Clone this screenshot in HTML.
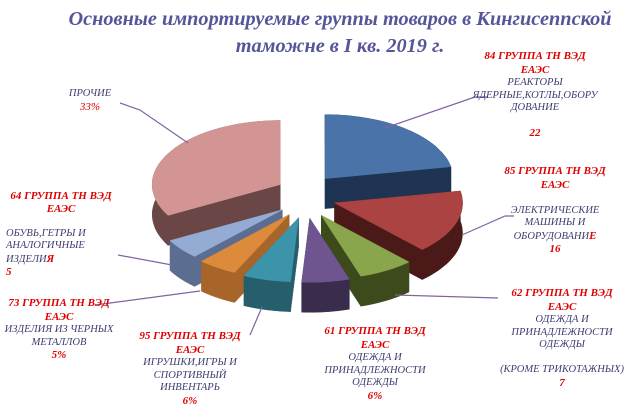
<!DOCTYPE html>
<html><head><meta charset="utf-8"><style>
body{margin:0;background:#fff;}
#wrap{position:relative;width:640px;height:405px;overflow:hidden;font-family:"Liberation Serif",serif;font-style:italic;}
.t{position:absolute;text-align:center;font-size:10.5px;line-height:12.5px;color:#3c3c70;}
.r{color:#e00000;font-weight:bold;font-size:11px;}
#title{position:absolute;left:40px;top:6px;width:600px;text-align:center;font-size:20.3px;line-height:27px;font-weight:bold;color:#555599;}
</style></head><body>
<div id="wrap">
<div id="title">Основные импортируемые группы товаров в Кингисеппской<br>таможне в I кв. 2019 г.</div>
<svg id="pie" width="640" height="405" style="position:absolute;left:0;top:0">
<g id="lines" stroke="#8064a2" stroke-width="1.2" fill="none">
<polyline points="385,128 475,97 487,97"/>
<polyline points="462,235 505,216 514,216"/>
<polyline points="395,295 498,298"/>
<polyline points="262,307 250,335"/>
<polyline points="200,291 95,305"/>
<polyline points="172,265 118,255"/>
<polyline points="188,143 140,110 120,103"/>
</g>
</svg>
<div class="t" style="left:470px;top:50px;width:130px"><span class="r">84 ГРУППА ТН ВЭД<br>ЕАЭС</span><br>РЕАКТОРЫ<br>ЯДЕРНЫЕ,КОТЛЫ,ОБОРУ<br>ДОВАНИЕ<br><br><span class="r">22</span></div>
<div class="t" style="left:495px;top:165px;width:120px"><span class="r">85 ГРУППА ТН ВЭД<br>ЕАЭС</span><br><br>ЭЛЕКТРИЧЕСКИЕ<br>МАШИНЫ И<br>ОБОРУДОВАНИ<span class="r">Е</span><br><span class="r">16</span></div>
<div class="t" style="left:497px;top:287px;width:130px"><span class="r">62 ГРУППА ТН ВЭД<br>ЕАЭС</span><br>ОДЕЖДА И<br>ПРИНАДЛЕЖНОСТИ<br>ОДЕЖДЫ<br><br>(КРОМЕ ТРИКОТАЖНЫХ)<br><span class="r">7</span></div>
<div class="t" style="left:320px;top:325px;width:110px"><span class="r">61 ГРУППА ТН ВЭД<br>ЕАЭС</span><br>ОДЕЖДА И<br>ПРИНАДЛЕЖНОСТИ<br>ОДЕЖДЫ<br><span class="r">6%</span></div>
<div class="t" style="left:130px;top:330px;width:120px"><span class="r">95 ГРУППА ТН ВЭД<br>ЕАЭС</span><br>ИГРУШКИ,ИГРЫ И<br>СПОРТИВНЫЙ<br>ИНВЕНТАРЬ<br><span class="r">6%</span></div>
<div class="t" style="left:0px;top:297px;width:118px"><span class="r">73 ГРУППА ТН ВЭД<br>ЕАЭС</span><br>ИЗДЕЛИЯ ИЗ ЧЕРНЫХ<br>МЕТАЛЛОВ<br><span class="r">5%</span></div>
<div class="t" style="left:0px;top:190px;width:130px;text-align:left;padding-left:6px"><span class="r" style="display:block;text-align:center;width:110px;white-space:nowrap">64 ГРУППА ТН ВЭД<br>ЕАЭС</span><br>ОБУВЬ,ГЕТРЫ И<br>АНАЛОГИЧНЫЕ<br>ИЗДЕЛИ<span class="r">Я</span><br><span class="r">5</span></div>
<div class="t" style="left:60px;top:88px;width:60px">ПРОЧИЕ<br><span class="r" style="font-weight:normal">33%</span></div>
</div>
<script>
const categories=["84","85","62","61","95","73","64","Прочие"];
const values=[22,16,7,6,6,5,5,33];
const topColors=["#4a73aa","#aa4342","#89a64c","#6f5590","#3c94aa","#dc8a3c","#94abd4","#d39494"];
const sideColors=["#1f3353","#4b1a18","#3c4a1c","#3a2c4d","#265e6c","#a8652a","#5b6e92","#6b4646"];
const svg=document.getElementById('pie');
const NS="http://www.w3.org/2000/svg";
const cx=306,cy=196,rx=128,ry=64,depth=30,explode=30;
const total=values.reduce((a,b)=>a+b,0);
function pt(a,ox,oy,dy){return [ox+rx*Math.cos(a),oy+ry*Math.sin(a)+dy];}
let slices=[];let acc=0;
values.forEach((v,i)=>{const a0=-Math.PI/2+acc/total*2*Math.PI;acc+=v;const a1=-Math.PI/2+acc/total*2*Math.PI;slices.push({i,a0,a1,m:(a0+a1)/2});});
slices.sort((a,b)=>Math.sin(a.m)-Math.sin(b.m));
const lines=document.getElementById('lines');
slices.forEach(s=>{
 const ox=cx+explode*Math.cos(s.m),oy=cy+explode*0.75*Math.sin(s.m);
 const g=document.createElementNS(NS,'g');
 
 
 const N=30;let arcTop=[],arcBot=[];
 for(let k=0;k<=N;k++){const a=s.a0+(s.a1-s.a0)*k/N;arcTop.push(pt(a,ox,oy,0));arcBot.push(pt(a,ox,oy,depth));}
 const P=p=>p[0].toFixed(1)+","+p[1].toFixed(1);
 const mk=(d,fill)=>{const p=document.createElementNS(NS,'path');p.setAttribute('d',d);p.setAttribute('fill',fill);p.setAttribute('stroke',fill);p.setAttribute('stroke-width','0.5');g.appendChild(p);};
 [[s.a0],[s.a1]].forEach(([a])=>{const e=pt(a,ox,oy,0),eb=pt(a,ox,oy,depth);mk(`M${ox},${oy}L${P(e)}L${P(eb)}L${ox},${oy+depth}Z`,sideColors[s.i]);});
 mk("M"+arcTop.map(P).join("L")+"L"+arcBot.reverse().map(P).join("L")+"Z",sideColors[s.i]);
 mk(`M${ox},${oy}L`+arcTop.map(P).join("L")+"Z",topColors[s.i]);
 svg.insertBefore(g,lines);
});
</script>
</body></html>
